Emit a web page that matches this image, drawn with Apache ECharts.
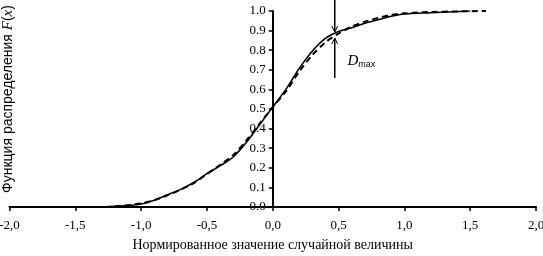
<!DOCTYPE html>
<html>
<head>
<meta charset="utf-8">
<script src="https://cdn.jsdelivr.net/npm/echarts@6/dist/echarts.min.js"></script>
<style>
	html, body { margin: 0; padding: 0; background: #fff; }
	#chart { width: 543px; height: 256px; }
</style>
</head>
<body>
<div id="chart"></div>
<script>
// эмпирическая функция (сплошная)
var solidX = [-1.25, -1.1, -1.0, -0.9, -0.8, -0.7, -0.6, -0.5, -0.4, -0.3, -0.2, -0.1, 0.0, 0.1, 0.2, 0.3, 0.4, 0.5, 0.6, 0.7, 0.8, 0.9, 1.0, 1.2, 1.5];
var solidF = [0.002, 0.007, 0.015, 0.035, 0.062, 0.09, 0.125, 0.17, 0.21, 0.255, 0.33, 0.42, 0.51, 0.6, 0.706, 0.795, 0.86, 0.895, 0.915, 0.938, 0.955, 0.973, 0.985, 0.991, 1.0];
// теоретическая функция (пунктир)
var dashX = [-1.2, -1.0, -0.9, -0.8, -0.7, -0.6, -0.5, -0.4, -0.3, -0.2, -0.1, 0.0, 0.1, 0.2, 0.3, 0.4, 0.5, 0.6, 0.7, 0.8, 0.9, 1.0, 1.2, 1.4, 1.62];
var dashF = [0.003, 0.018, 0.035, 0.06, 0.088, 0.122, 0.168, 0.215, 0.265, 0.34, 0.425, 0.51, 0.59, 0.69, 0.775, 0.84, 0.885, 0.92, 0.945, 0.965, 0.98, 0.988, 0.995, 0.998, 1.0];
// D max
var dmax = [0.471, 1.056, 0.893, 0.862, 0.658];
var dmaxLabel = [0.567, 0.745];

var xTicks = ['-2,0', '-1,5', '-1,0', '-0,5', '0,0', '0,5', '1,0', '1,5', '2,0'];
var xMin = -2, xMax = 2;

function pairs(xs, ys){
	var arr = [];
	for(var i = 0; i < xs.length; i++){
		arr.push([xs[i], ys[i]]);
	}
	return arr;
}

var W = 543, gridLeft = 9.5, gridRight = 7;
// ось Y проходит через x = 0
var yOffset = -(0 - xMin) / (xMax - xMin) * (W - gridLeft - gridRight);

var serif = 'Liberation Serif';
var chart = echarts.init(document.getElementById('chart'));
chart.setOption({
	animation: false,
	grid: { left: gridLeft, right: gridRight, top: 11, bottom: 49, containLabel: false, outerBoundsMode: 'none' },
	xAxis: {
		type: 'value', min: xMin, max: xMax, interval: 0.5,
		axisLine: { onZero: false, lineStyle: { color: '#000', width: 2 } },
		axisTick: { length: 4, lineStyle: { color: '#000', width: 1.5 } },
		splitLine: { show: false },
		axisLabel: {
			color: '#000', fontFamily: serif, fontSize: 13, margin: 12,
			formatter: function(v){ return xTicks[Math.round((v - xMin) / 0.5)]; }
		},
		name: 'Нормированное значение случайной величины',
		nameLocation: 'middle', nameGap: 31,
		nameTextStyle: { color: '#000', fontFamily: serif, fontSize: 14 }
	},
	yAxis: {
		type: 'value', min: 0, max: 1, interval: 0.1,
		offset: yOffset,
		axisLine: { show: true, onZero: false, lineStyle: { color: '#000', width: 2 } },
		axisTick: { show: true, length: 4, lineStyle: { color: '#000', width: 1.5 } },
		splitLine: { show: false },
		axisLabel: {
			color: '#000', fontFamily: serif, fontSize: 13, margin: 7,
			formatter: function(v){ return v.toFixed(1); }
		}
	},
	graphic: [{
		type: 'text', x: 8, y: 99, rotation: Math.PI / 2,
		style: {
			text: '{a|Функция распределения }{b|F}{a|(}{b|x}{a|)}',
			align: 'center', verticalAlign: 'middle',
			rich: {
				a: { fontFamily: 'Liberation Sans', fontSize: 14, fill: '#000' },
				b: { fontFamily: serif, fontStyle: 'italic', fontSize: 15, fill: '#000' }
			}
		}
	}],
	series: [{
		type: 'line', data: pairs(solidX, solidF), smooth: 0.3,
		showSymbol: false, lineStyle: { color: '#000', width: 1.6 }
	}, {
		type: 'line', data: pairs(dashX, dashF), smooth: 0.3,
		showSymbol: false, lineStyle: { color: '#000', width: 2, type: [6, 4] }
	}, {
		type: 'custom', coordinateSystem: 'cartesian2d', clip: false, silent: true,
		data: [dmax],
		renderItem: function(params, api){
			var x = api.value(0);
			var top = api.coord([x, api.value(1)]);
			var hi = api.coord([x, api.value(2)]);
			var lo = api.coord([x, api.value(3)]);
			var bot = api.coord([x, api.value(4)]);
			var lbl = api.coord(dmaxLabel);
			var st = { stroke: '#000', lineWidth: 1.5, fill: null };
			var thin = { stroke: '#000', lineWidth: 1, fill: null };
			return {
				type: 'group',
				children: [
					{ type: 'line', shape: { x1: top[0], y1: top[1], x2: hi[0], y2: hi[1] }, style: st },
					{ type: 'line', shape: { x1: bot[0], y1: bot[1], x2: lo[0], y2: lo[1] }, style: st },
					{ type: 'polyline', shape: { points: [[hi[0] - 3, hi[1] - 6], [hi[0], hi[1]], [hi[0] + 3, hi[1] - 6]] }, style: thin },
					{ type: 'polyline', shape: { points: [[lo[0] - 3, lo[1] + 6], [lo[0], lo[1]], [lo[0] + 3, lo[1] + 6]] }, style: thin },
					{
						type: 'text', x: lbl[0], y: lbl[1],
						style: {
							text: '{d|D}{s|max}', verticalAlign: 'middle',
							rich: {
								d: { fontFamily: serif, fontStyle: 'italic', fontSize: 15, fill: '#000' },
								s: { fontFamily: 'Liberation Sans', fontSize: 9, fill: '#000', padding: [8, 0, 0, 0] }
							}
						}
					}
				]
			};
		}
	}]
});
</script>
</body>
</html>
